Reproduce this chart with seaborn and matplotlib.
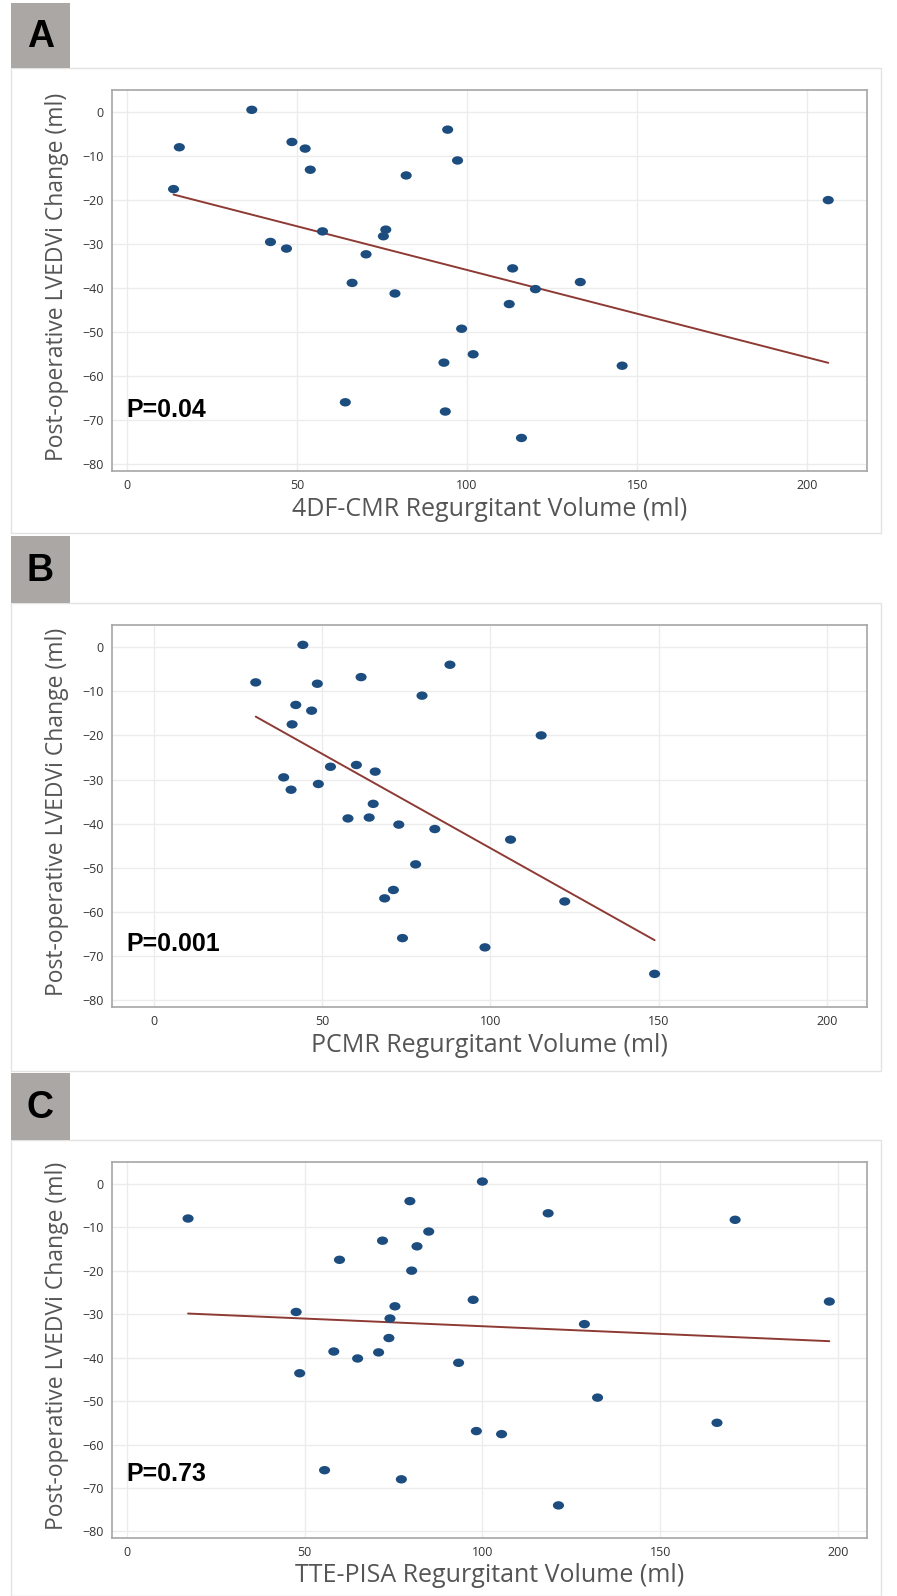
import matplotlib
matplotlib.use("Agg")
import matplotlib.pyplot as plt
from matplotlib.patches import Rectangle
from matplotlib.path import Path
import pandas as pd
import seaborn as sns

# Post-operative LVEDVi change for each patient (ml)
lvedvi_change = [0.5, -4.0, -6.8, -8.0, -8.3, -11.0, -13.1, -14.4, -17.5, -20.0,
                 -26.7, -27.1, -28.2, -29.5, -31.0, -32.3, -35.5, -38.6, -38.8, -40.2,
                 -41.2, -43.6, -49.2, -55.0, -56.9, -57.6, -65.9, -68.0, -74.0]

# Regurgitant volume (ml) by modality, same patient order
rv_4dfcmr = [36.7, 94.3, 48.5, 15.4, 52.4, 97.2, 53.9, 82.1, 13.7, 206.2,
             76.1, 57.5, 75.4, 42.2, 46.9, 70.3, 113.4, 133.3, 66.2, 120.1,
             78.8, 112.4, 98.4, 101.8, 93.2, 145.6, 64.2, 93.6, 116.0]
rv_pcmr = [44.3, 88.0, 61.6, 30.3, 48.6, 79.7, 42.2, 46.9, 41.1, 115.1,
           60.2, 52.5, 65.8, 38.6, 48.9, 40.8, 65.2, 64.0, 57.7, 72.8,
           83.5, 106.0, 77.8, 71.2, 68.6, 122.1, 73.9, 98.4, 148.8]
rv_ttepisa = [100.0, 79.6, 118.5, 17.2, 171.1, 84.9, 71.9, 81.6, 59.8, 80.1,
              97.4, 197.6, 75.4, 47.6, 74.0, 128.7, 73.7, 58.2, 70.8, 64.9,
              93.3, 48.6, 132.4, 166.0, 98.3, 105.4, 55.6, 77.2, 121.4]

panel_letters = ["A", "B", "C"]
x_labels = ["4DF-CMR Regurgitant Volume (ml)",
            "PCMR Regurgitant Volume (ml)",
            "TTE-PISA Regurgitant Volume (ml)"]
y_label = "Post-operative LVEDVi Change (ml)"
p_labels = ["P=0.04", "P=0.001", "P=0.73"]
x_ticks = [0, 50, 100, 150, 200]
y_ticks = [0, -10, -20, -30, -40, -50, -60, -70, -80]

W, H, DPI = 897, 1596, 100

sns.set_theme(style="white")
plt.rcParams["font.family"] = ["Open Sans", "DejaVu Sans"]

fig = plt.figure(figsize=(W / DPI, H / DPI), dpi=DPI)
fig.patch.set_facecolor("white")


def fig_rect(x0, y0, x1, y1):
    """Pixel box (top-left origin) -> figure-fraction rectangle."""
    return (x0 / W, 1 - y1 / H, (x1 - x0) / W, (y1 - y0) / H)


# panel geometry in pixels: label box, panel frame, axes box, x-limits, P text baseline
panels = [
    dict(box=(11, 3, 70, 68), frame=(11, 68, 881, 533), ax=(112, 90, 867, 471),
         xlim=(-4.4, 217.6), p_y=0.1425, xl_font=18),
    dict(box=(11, 536, 70, 603), frame=(11, 603, 881, 1071), ax=(112, 625, 867, 1007),
         xlim=(-12.4, 211.9), p_y=0.147, xl_font=18),
    dict(box=(11, 1073, 70, 1140), frame=(11, 1140, 881, 1596), ax=(112, 1162, 867, 1538),
         xlim=(-4.2, 208.2), p_y=0.152, xl_font=18),
]
x_series = [rv_4dfcmr, rv_pcmr, rv_ttepisa]

# slightly flattened dot, as drawn by the original software
circ = Path.unit_circle()
dot = Path(circ.vertices * [1.32, 1.0], circ.codes)

dot_color = "#1c4d7e"
line_color = "#8e3a34"
grid_color = "#ececec"
frame_color = "#a6a6a6"

for i, cfg in enumerate(panels):
    # panel frame and letter tag
    fx, fy, fw, fh = fig_rect(*cfg["frame"])
    fig.add_artist(Rectangle((fx, fy), fw, fh, transform=fig.transFigure,
                             facecolor="none", edgecolor="#e3e3e3", lw=1.0, zorder=0))
    bx, by, bw, bh = fig_rect(*cfg["box"])
    fig.add_artist(Rectangle((bx, by), bw, bh, transform=fig.transFigure,
                             facecolor="#aaa7a5", edgecolor="none", zorder=1))
    fig.text(bx + bw / 2, by + bh / 2 - 0.001, panel_letters[i], ha="center", va="center",
             fontsize=27, fontweight="bold", color="black",
             family=["Liberation Sans", "DejaVu Sans"])

    ax = fig.add_axes(fig_rect(*cfg["ax"]))
    df = pd.DataFrame({"rv": x_series[i], "dlv": lvedvi_change})

    sns.regplot(data=df, x="rv", y="dlv", ax=ax, ci=None, scatter=False,
                line_kws=dict(color=line_color, lw=1.4, zorder=2))
    sns.scatterplot(data=df, x="rv", y="dlv", ax=ax, marker=dot, s=64,
                    color=dot_color, edgecolor="none", linewidth=0, zorder=3)

    ax.set_xlim(*cfg["xlim"])
    ax.set_ylim(-81.5, 5.0)
    ax.set_xticks(x_ticks)
    ax.set_yticks(y_ticks)
    ax.grid(True, color=grid_color, lw=1.0)
    ax.set_axisbelow(True)
    for sp in ax.spines.values():
        sp.set_color(frame_color)
        sp.set_linewidth(1.2)
    ax.tick_params(axis="both", which="major", length=3, width=0.8, color="#9a9a9a",
                   labelsize=9, labelcolor="#333333", pad=3)
    ax.tick_params(axis="x", pad=2.5)

    ax.set_xlabel(x_labels[i], fontsize=cfg["xl_font"], color="#555555", va="center")
    ax.set_ylabel(y_label, fontsize=16.5, color="#555555", va="center")
    ax_h = cfg["ax"][3] - cfg["ax"][1]
    ax.xaxis.set_label_coords(0.5, -38 / ax_h)
    ax.yaxis.set_label_coords(-55 / 755, 0.51)

    ax.text(0.0185, cfg["p_y"], p_labels[i], transform=ax.transAxes, ha="left",
            va="baseline", fontsize=18, fontweight="bold", color="black",
            family=["Liberation Sans", "DejaVu Sans"])

fig.savefig("out.png", dpi=DPI, facecolor="white")
